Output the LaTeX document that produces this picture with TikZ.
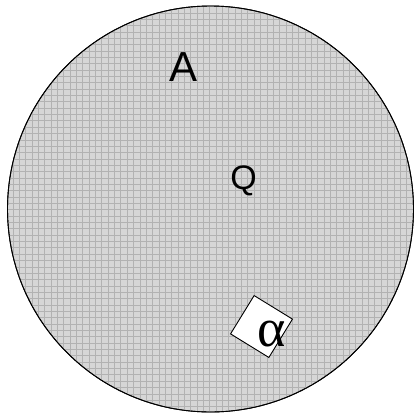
\documentclass[tikz,border=0pt]{standalone}
\usepackage{fontspec}
\setmainfont{Liberation Sans}
\newfontfamily\serifgreek{Liberation Serif}
\begin{document}
\begin{tikzpicture}[x=1pt,y=-1pt,
  disk/.style={circle,draw=black,line width=0.9pt,fill=black!16,minimum size=406pt,inner sep=0pt},
  gridline/.style={draw=black!30,line width=0.4pt},
  lbl/.style={inner sep=0pt,text=black},
  tile/.style={draw=black,line width=0.9pt,fill=white,minimum size=45pt,inner sep=0pt,rotate=-31.6}]
\useasboundingbox (0,0) rectangle (414,416);
\node[disk] (circ) at (210.5,209) {};
\begin{scope}
  \clip (circ.center) circle (202.5pt);
  \draw[gridline,step=6.35pt] (0,0) grid (414,416);
\end{scope}
\draw[line width=0.9pt] (circ.center) circle (203pt);
\node[lbl,font=\fontsize{42}{42}\selectfont] (A) at (184,67) {A};
\node[lbl,font=\fontsize{34}{34}\selectfont] (Q) at (243.5,181) {Q};
\node[tile] (box) at (261.5,326.5) {};
\node[lbl,font=\serifgreek\fontsize{54}{54}\selectfont] (alpha) at (272,334) {α};
\end{tikzpicture}
\end{document}
